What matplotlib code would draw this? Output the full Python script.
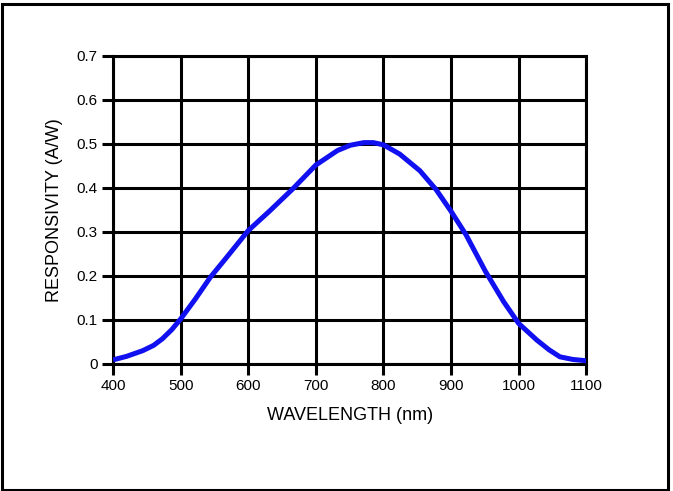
import matplotlib
matplotlib.use("Agg")
from matplotlib import pyplot as plt
from matplotlib.patches import Rectangle

plt.rcParams['font.family'] = ['Liberation Sans', 'DejaVu Sans']

# Responsivity curve
wavelength = [400, 420, 444, 460, 473, 487, 500, 522, 544, 568, 600, 632, 666,
              700, 732, 751, 771, 785, 800, 824, 854, 878, 900, 922, 951, 978,
              1000, 1027, 1045, 1061, 1080, 1100]
responsivity = [0.009, 0.017, 0.030, 0.042, 0.057, 0.078, 0.102, 0.148, 0.197,
                0.242, 0.303, 0.348, 0.398, 0.452, 0.485, 0.497, 0.503, 0.503,
                0.498, 0.477, 0.439, 0.396, 0.347, 0.294, 0.210, 0.141, 0.092,
                0.054, 0.032, 0.016, 0.010, 0.007]

x_ticks = [400, 500, 600, 700, 800, 900, 1000, 1100]
y_ticks = [0, 0.1, 0.2, 0.3, 0.4, 0.5, 0.6, 0.7]
y_labels = ['0', '0.1', '0.2', '0.3', '0.4', '0.5', '0.6', '0.7']

fig = plt.figure(figsize=(6.73, 4.91), dpi=100)
fig.patches.append(Rectangle((0.003, 0.003), 0.990, 0.988, transform=fig.transFigure,
                             fill=False, edgecolor='black', linewidth=2.2))

ax = fig.add_axes([0.168, 0.259, 0.703, 0.627])
ax.plot(wavelength, responsivity, color='#1010f0', linewidth=3.6,
        solid_capstyle='butt', solid_joinstyle='round', zorder=3)

ax.set_xlim(400, 1100)
ax.set_ylim(0, 0.7)
ax.set_xticks(x_ticks)
ax.set_yticks(y_ticks)
ax.set_yticklabels(y_labels)
ax.grid(True, color='black', linewidth=2.2)
for s in ax.spines.values():
    s.set_linewidth(2.2)
ax.tick_params(axis='both', direction='out', length=8, width=2.2,
               labelsize=11, pad=3)
ax.set_xlabel('WAVELENGTH (nm)', fontsize=13, labelpad=10)
ax.set_ylabel('RESPONSIVITY (A/W)', fontsize=13, labelpad=10)

fig.savefig('out.png', dpi=100)
